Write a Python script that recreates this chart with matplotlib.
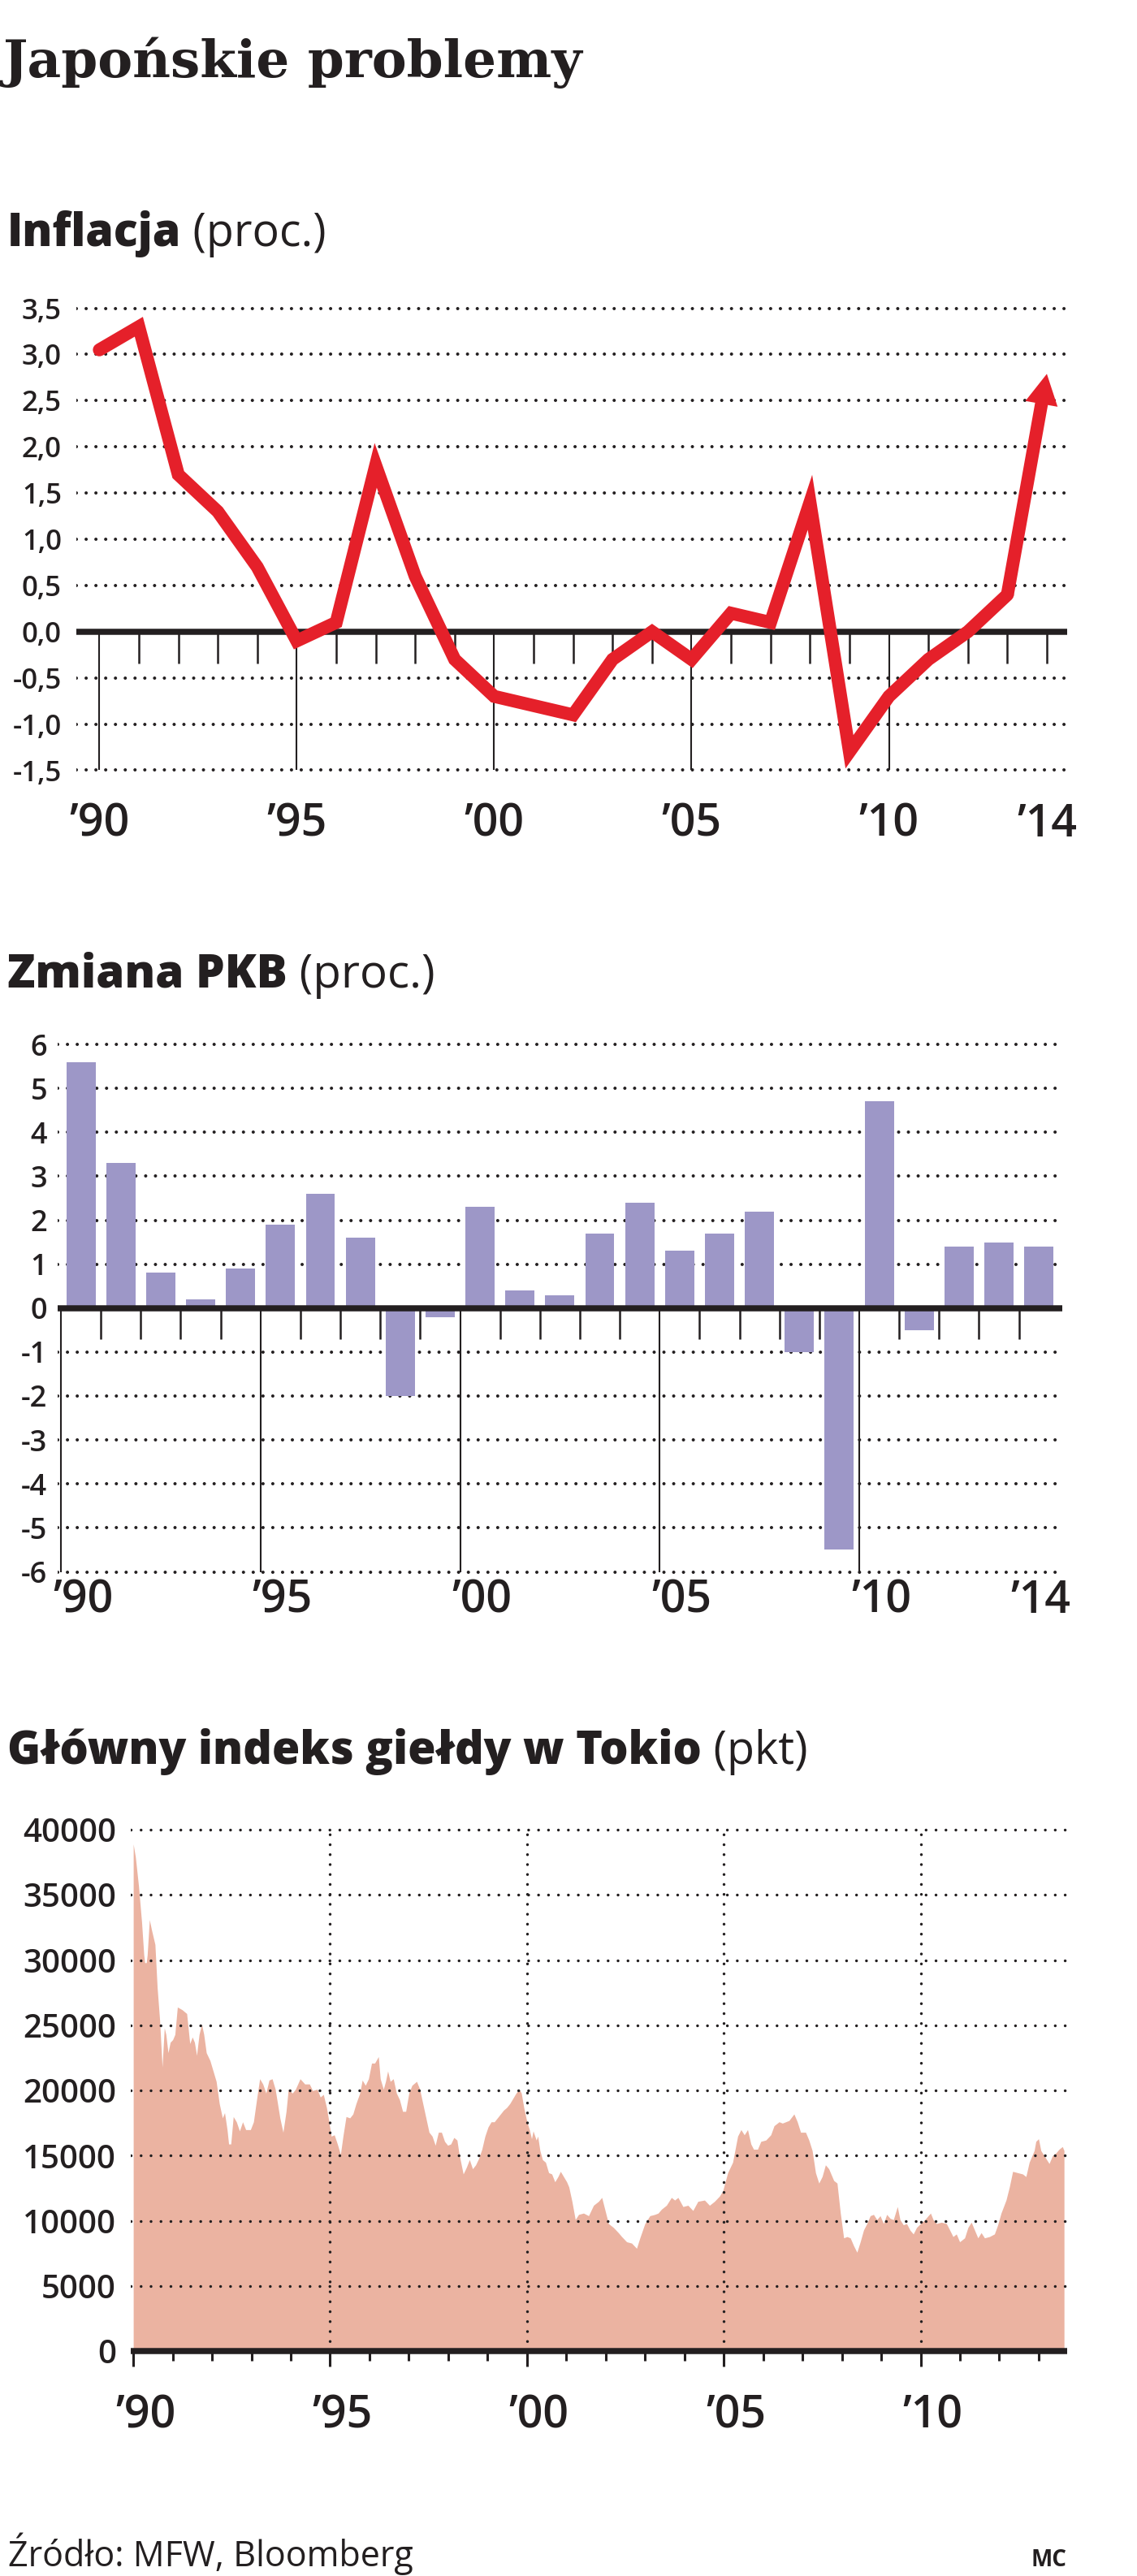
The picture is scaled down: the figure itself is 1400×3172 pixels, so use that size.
import matplotlib
matplotlib.use('Agg')
import matplotlib.pyplot as plt
from matplotlib.transforms import blended_transform_factory, ScaledTranslation
from matplotlib.patches import ArrowStyle

W, H, DPI = 1400, 3172, 100
BLACK = '#231f20'
RED = '#e5202a'
BAR = '#9d97c7'
FILL = '#ebb3a1'
SANS = ['Open Sans', 'DejaVu Sans']

plt.rcParams['font.family'] = SANS

# ---------------- data ----------------
infl_years = list(range(1990, 2015))
infl_values = [3.05, 3.3, 1.7, 1.3, 0.7, -0.1, 0.1, 1.8, 0.6, -0.3, -0.7, -0.8, -0.9,
               -0.3, 0.0, -0.3, 0.2, 0.1, 1.4, -1.3, -0.7, -0.3, 0.0, 0.4, 2.79]
infl_yticks = [3.5, 3.0, 2.5, 2.0, 1.5, 1.0, 0.5, 0.0, -0.5, -1.0, -1.5]
infl_ylabels = ['3,5', '3,0', '2,5', '2,0', '1,5', '1,0', '0,5', '0,0', '-0,5', '-1,0', '-1,5']

gdp_years = list(range(1990, 2015))
gdp_values = [5.6, 3.3, 0.8, 0.2, 0.9, 1.9, 2.6, 1.6, -2.0, -0.2, 2.3, 0.4, 0.3, 1.7,
              2.4, 1.3, 1.7, 2.2, -1.0, -5.5, 4.7, -0.5, 1.4, 1.5, 1.4]
gdp_yticks = [6, 5, 4, 3, 2, 1, 0, -1, -2, -3, -4, -5, -6]
gdp_ylabels = ['6', '5', '4', '3', '2', '1', '0', '-1', '-2', '-3', '-4', '-5', '-6']

stock_t = [
    1990.000, 1990.055, 1990.134, 1990.213, 1990.268, 1990.292, 1990.331, 1990.355, 1990.410, 1990.466,
    1990.552, 1990.608, 1990.671, 1990.734, 1990.789, 1990.829, 1990.884, 1990.939, 1991.002, 1991.058,
    1991.121, 1991.239, 1991.358, 1991.436, 1991.500, 1991.555, 1991.610, 1991.673, 1991.736, 1991.792,
    1991.855, 1991.949, 1992.028, 1992.107, 1992.186, 1992.265, 1992.320, 1992.384, 1992.423, 1992.478,
    1992.541, 1992.620, 1992.699, 1992.778, 1992.857, 1992.976, 1993.054, 1993.133, 1993.212, 1993.291,
    1993.370, 1993.449, 1993.528, 1993.607, 1993.725, 1993.804, 1993.883, 1993.938, 1994.041, 1994.120,
    1994.238, 1994.357, 1994.475, 1994.554, 1994.672, 1994.751, 1994.830, 1994.909, 1994.972, 1995.028,
    1995.107, 1995.185, 1995.264, 1995.328, 1995.406, 1995.501, 1995.580, 1995.659, 1995.754, 1995.817,
    1995.896, 1995.975, 1996.054, 1996.133, 1996.227, 1996.275, 1996.354, 1996.409, 1996.464, 1996.527,
    1996.606, 1996.685, 1996.764, 1996.843, 1996.922, 1997.001, 1997.080, 1997.198, 1997.277, 1997.356,
    1997.435, 1997.514, 1997.593, 1997.672, 1997.751, 1997.830, 1997.909, 1997.988, 1998.066, 1998.145,
    1998.224, 1998.279, 1998.382, 1998.461, 1998.540, 1998.619, 1998.698, 1998.777, 1998.856, 1998.934,
    1999.013, 1999.092, 1999.171, 1999.250, 1999.329, 1999.408, 1999.487, 1999.566, 1999.645, 1999.724,
    1999.803, 1999.858, 1999.921, 2000.000, 2000.063, 2000.118, 2000.158, 2000.237, 2000.276, 2000.331,
    2000.395, 2000.473, 2000.552, 2000.631, 2000.710, 2000.789, 2000.852, 2000.931, 2001.010, 2001.066,
    2001.145, 2001.229, 2001.313, 2001.439, 2001.566, 2001.692, 2001.818, 2001.902, 2001.987, 2002.071,
    2002.197, 2002.323, 2002.407, 2002.534, 2002.660, 2002.786, 2002.870, 2002.997, 2003.123, 2003.249,
    2003.333, 2003.418, 2003.544, 2003.670, 2003.754, 2003.838, 2003.965, 2004.091, 2004.217, 2004.343,
    2004.512, 2004.638, 2004.764, 2004.891, 2004.975, 2005.101, 2005.227, 2005.354, 2005.438, 2005.522,
    2005.606, 2005.690, 2005.758, 2005.859, 2005.943, 2006.069, 2006.195, 2006.279, 2006.406, 2006.490,
    2006.574, 2006.658, 2006.785, 2006.869, 2006.953, 2007.079, 2007.163, 2007.247, 2007.332, 2007.416,
    2007.500, 2007.584, 2007.668, 2007.795, 2007.879, 2007.963, 2008.047, 2008.131, 2008.215, 2008.300,
    2008.384, 2008.468, 2008.552, 2008.636, 2008.721, 2008.805, 2008.889, 2008.973, 2009.057, 2009.141,
    2009.226, 2009.310, 2009.411, 2009.478, 2009.562, 2009.646, 2009.731, 2009.815, 2009.899, 2010.000,
    2010.109, 2010.194, 2010.253, 2010.320, 2010.404, 2010.530, 2010.657, 2010.741, 2010.825, 2010.909,
    2010.993, 2011.120, 2011.204, 2011.288, 2011.372, 2011.456, 2011.540, 2011.625, 2011.751, 2011.877,
    2011.961, 2012.045, 2012.172, 2012.256, 2012.340, 2012.466, 2012.593, 2012.677, 2012.761, 2012.887,
    2012.929, 2012.997, 2013.056, 2013.140, 2013.266, 2013.350, 2013.434, 2013.519, 2013.603, 2013.645,
]
stock_v = [
    38900, 37900, 35700, 32900, 30400, 29800, 29800, 30400, 33100, 32300,
    31200, 27900, 25400, 21800, 24800, 24300, 22900, 23700, 23900, 24300,
    26400, 26200, 25900, 23600, 24100, 23700, 22700, 24300, 25100, 24300,
    22900, 22300, 21500, 20700, 19000, 17900, 18300, 17000, 15900, 15900,
    18000, 17600, 16900, 17600, 17000, 17000, 17600, 19300, 20900, 20500,
    19800, 20800, 20900, 20100, 17900, 16800, 18400, 20100, 19800, 20100,
    20900, 20500, 20500, 20000, 20100, 19500, 19700, 18700, 17600, 16500,
    16600, 15900, 15100, 16500, 18000, 17900, 18200, 19000, 19800, 20800,
    20400, 20900, 22100, 22100, 22600, 20900, 20100, 20700, 21500, 20700,
    20900, 19800, 19300, 18400, 18400, 19800, 20400, 20700, 20100, 19000,
    17900, 16800, 16500, 15800, 16800, 16800, 16100, 15800, 15900, 16400,
    16200, 15100, 13600, 14100, 14700, 14000, 14300, 14800, 15500, 16500,
    17200, 17600, 17600, 17900, 18200, 18500, 18700, 19000, 19400, 19800,
    20100, 19800, 18700, 17600, 17000, 16300, 16900, 16200, 16500, 15400,
    14700, 14500, 13700, 13600, 13000, 13400, 13800, 13400, 13000, 12600,
    11500, 10100, 10500, 10600, 10400, 11200, 11500, 11800, 10800, 9800,
    9500, 9100, 8800, 8400, 8300, 7900, 8700, 9800, 10400, 10500,
    10600, 10900, 11200, 11800, 11600, 11800, 11100, 11200, 10800, 11500,
    11600, 11200, 11500, 11900, 12300, 13700, 14500, 16500, 17000, 16600,
    17000, 15900, 15500, 15500, 16100, 16200, 16600, 17300, 17600, 17500,
    17600, 17700, 18200, 17600, 16800, 16800, 16200, 15400, 13700, 12900,
    13400, 14300, 14000, 13100, 12900, 10600, 8700, 8800, 8700, 8100,
    7600, 8400, 9300, 9800, 10400, 10500, 10100, 10400, 9800, 10500,
    10200, 10100, 11100, 10100, 9700, 9800, 9300, 9000, 9500, 9800,
    10100, 10400, 10600, 10100, 9800, 9900, 9800, 9300, 8800, 9000,
    8400, 8700, 9500, 9900, 9300, 8700, 9100, 8700, 8800, 9000,
    9700, 10600, 11600, 12600, 13800, 13700, 13600, 13400, 14500, 15400,
    16100, 16300, 15400, 15000, 14400, 15000, 15200, 15500, 15700, 15400,
]
stock_yticks = [0, 5000, 10000, 15000, 20000, 25000, 30000, 35000, 40000]
stock_ylabels = ['0', '5000', '10000', '15000', '20000', '25000', '30000', '35000', '40000']

label_years = [1990, 1995, 2000, 2005, 2010, 2014]
labels = ['\u201990', '\u201995', '\u201900', '\u201905', '\u201910', '\u201914']
stock_label_years = [1990, 1995, 2000, 2005, 2010]
stock_labels = ['\u201990', '\u201995', '\u201900', '\u201905', '\u201910']
major_years = [1990, 1995, 2000, 2005, 2010]

# ---------------- figure ----------------
fig = plt.figure(figsize=(W / DPI, H / DPI), dpi=DPI)
fig.patch.set_facecolor('white')
renderer = fig.canvas.get_renderer()


def px_axes(xd, xp, yd, yp, xlim, ylim):
    sx = (xp[1] - xp[0]) / (xd[1] - xd[0])
    sy = (yp[1] - yp[0]) / (yd[1] - yd[0])
    left = xp[0] + (xlim[0] - xd[0]) * sx
    right = xp[0] + (xlim[1] - xd[0]) * sx
    top = yp[0] + (ylim[1] - yd[0]) * sy
    bottom = yp[0] + (ylim[0] - yd[0]) * sy
    ax = fig.add_axes([left / W, 1 - bottom / H, (right - left) / W, (bottom - top) / H])
    ax.set_xlim(*xlim)
    ax.set_ylim(*ylim)
    for s in ax.spines.values():
        s.set_visible(False)
    ax.patch.set_alpha(0)
    ax.set_xticks([])
    return ax


def dotted_h(ax, ys, lw, period_px, z=1):
    off = period_px * 0.72 / lw
    for y in ys:
        ax.axhline(y, color=BLACK, lw=lw, linestyle=(0, (0.01, off)),
                   dash_capstyle='round', zorder=z)


def fig_y(px):
    return 1 - px / H


def fit_line(parts, x0, base_px, right_px, size):
    """Lay text parts out one after another; scale so the line ends at right_px."""
    objs = []
    for txt, kw in parts:
        objs.append(fig.text(x0 / W, fig_y(base_px), txt, fontsize=size, color=BLACK,
                             ha='left', va='baseline', **kw))

    def layout():
        x = x0
        for o in objs:
            o.set_x(x / W)
            x = o.get_window_extent(renderer).x1
        return x

    right = layout()
    start = objs[0].get_window_extent(renderer).x0
    factor = (right_px - start) / (right - start)
    for o in objs:
        o.set_fontsize(size * factor)
    layout()
    return objs


def style_ylabels(ax, size):
    ax.tick_params(axis='y', length=0, labelsize=size, labelcolor=BLACK)
    for lab in ax.get_yticklabels():
        lab.set_fontweight('semibold')


# ---------------- title & texts ----------------
fit_line([('Japońskie problemy', dict(family='DejaVu Serif', weight='bold'))],
         4, 95, 717, 45)
fit_line([('Inflacja', dict(weight='extra bold')), (' (proc.)', {})], 9, 303, 402, 36)
fit_line([('Zmiana PKB', dict(weight='extra bold')), (' (proc.)', {})], 9, 1216, 536, 36)
fit_line([('Główny indeks giełdy w Tokio', dict(weight='extra bold')), (' (pkt)', {})],
         9, 2172, 995, 36)
fit_line([('Źródło: MFW, Bloomberg', dict(weight='medium'))], 10, 3160, 509, 28)
fig.text(1313 / W, fig_y(3160), 'MC', fontsize=20, weight='bold', color=BLACK,
         ha='right', va='baseline')

# ---------------- inflation ----------------
ax1 = px_axes((1990, 2014), (122.3, 1289.0), (3.5, -1.5), (379.6, 948.5),
              (1989.413, 2014.516), (-1.53, 3.53))
dotted_h(ax1, [v for v in infl_yticks if v != 0], lw=2.9, period_px=12)
ax1.set_yticks(infl_yticks, labels=infl_ylabels)
ax1.tick_params(axis='y', pad=12.8)
style_ylabels(ax1, 25)
minor1 = [y for y in infl_years if y not in major_years]
ax1.vlines(minor1, -0.343, 0, color=BLACK, lw=1.8, zorder=2)
ax1.vlines(major_years, -1.5, 0, color=BLACK, lw=1.5, zorder=2)
ax1.axhline(0, color=BLACK, lw=5.4, solid_capstyle='butt', zorder=3)
ax1.plot(infl_years[:-1], infl_values[:-1], color=RED, lw=11.5, zorder=4,
         solid_joinstyle='miter', solid_capstyle='round', clip_on=False)
ax1.annotate('', xy=(infl_years[-1], infl_values[-1]),
             xytext=(infl_years[-2], infl_values[-2]),
             arrowprops=dict(arrowstyle=ArrowStyle.Simple(head_length=27, head_width=29,
                                                          tail_width=11.5),
                             mutation_scale=1, color=RED, lw=0, shrinkA=0, shrinkB=0),
             zorder=5, annotation_clip=False)
tr1 = blended_transform_factory(ax1.transData, fig.transFigure)
for yr, lab in zip(label_years, labels):
    ax1.text(yr, fig_y(1030), lab, transform=tr1, fontsize=40, color=BLACK,
             weight='semibold', ha='center', va='baseline')

# ---------------- GDP ----------------
ax2 = px_axes((1990, 2010), (75.0, 1058.0), (6, -6), (1286.0, 1935.5),
              (1989.927, 2015.087), (-6.08, 6.08))
dotted_h(ax2, [v for v in gdp_yticks if v != 0], lw=2.9, period_px=12)
ax2.set_yticks(gdp_yticks, labels=gdp_ylabels)
ax2.tick_params(axis='y', pad=9.6)
style_ylabels(ax2, 26)
ax2.bar([y + 0.5 for y in gdp_years], gdp_values, width=0.73, color=BAR, zorder=2)
minor2 = [y for y in range(1991, 2015) if y not in major_years]
ax2.vlines(minor2, -0.71, 0, color=BLACK, lw=1.8, zorder=2.5)
ax2.vlines(major_years, -6, 0, color=BLACK, lw=1.5, zorder=2.5)
ax2.axhline(0, color=BLACK, lw=5.4, solid_capstyle='butt', zorder=3)
tr2 = blended_transform_factory(ax2.transData, fig.transFigure) + \
    ScaledTranslation(-10 / DPI, 0, fig.dpi_scale_trans)
for yr, lab in zip(label_years, labels):
    ax2.text(yr, fig_y(1986), lab, transform=tr2, fontsize=40, color=BLACK,
             weight='semibold', ha='left', va='baseline')

# ---------------- Nikkei ----------------
ax3 = px_axes((1990, 2010), (164.1, 1133.5), (40000, 0), (2253.0, 2895.4),
              (1989.93, 2013.72), (-300, 40300))
ax3.fill_between(stock_t, 0, stock_v, color=FILL, lw=0, zorder=1)
dotted_h(ax3, [v for v in stock_yticks if v != 0], lw=2.5, period_px=12.2, z=2)
off3 = 12.2 * 0.72 / 2.5
ymax_frac = (40000 + 300) / 40600.0
ymin_frac = 300 / 40600.0
for yr in major_years[1:]:
    ax3.axvline(yr, ymin=ymin_frac, ymax=ymax_frac, color=BLACK, lw=2.5,
                linestyle=(0, (0.01, off3)), dash_capstyle='round', zorder=2)
ax3.set_yticks(stock_yticks, labels=stock_ylabels)
ax3.tick_params(axis='y', pad=12.7)
style_ylabels(ax3, 29)
minor3 = [y for y in range(1991, 2014) if y not in major_years]
ax3.vlines(minor3, -720, 0, color=BLACK, lw=2.2, zorder=3, clip_on=False)
ax3.vlines(major_years, -1150, 0, color=BLACK, lw=2.2, zorder=3, clip_on=False)
ax3.axhline(0, color=BLACK, lw=5.4, solid_capstyle='butt', zorder=3, clip_on=False)
tr3 = blended_transform_factory(ax3.transData, fig.transFigure) + \
    ScaledTranslation(15 / DPI, 0, fig.dpi_scale_trans)
for yr, lab in zip(stock_label_years, stock_labels):
    ax3.text(yr, fig_y(2989), lab, transform=tr3, fontsize=40, color=BLACK,
             weight='semibold', ha='center', va='baseline')

fig.savefig('out.png', dpi=DPI, facecolor='white')
